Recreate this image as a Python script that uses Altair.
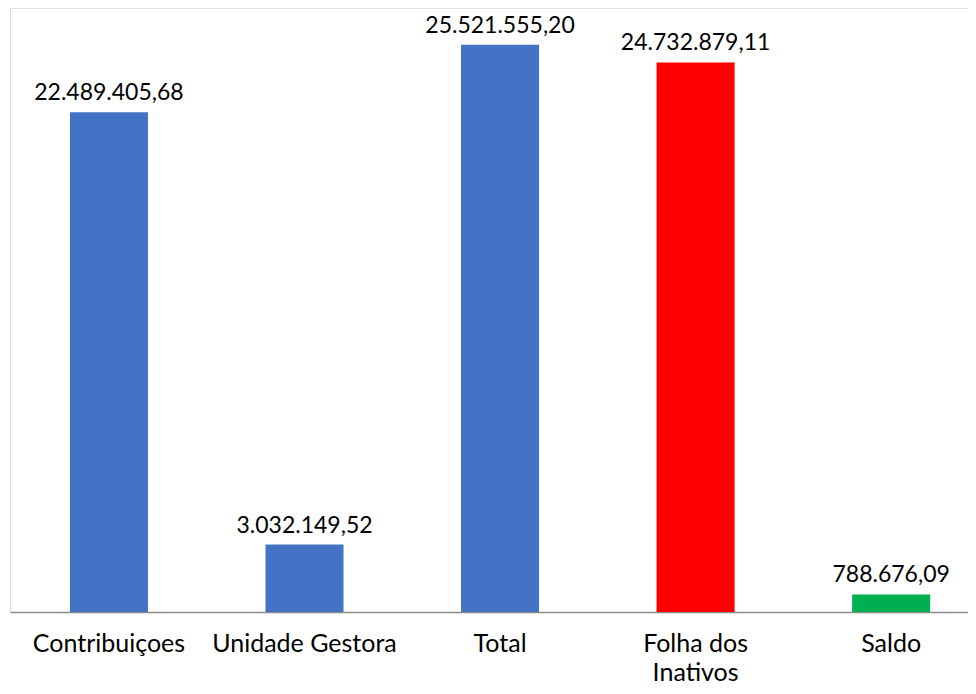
import altair as alt
import pandas as pd

categories = ["Contribuiçoes", "Unidade Gestora", "Total", "Folha dos Inativos", "Saldo"]
values = [22489405.68, 3032149.52, 25521555.20, 24732879.11, 788676.09]
labels = ["22.489.405,68", "3.032.149,52", "25.521.555,20", "24.732.879,11", "788.676,09"]
colors = ["#4472C4", "#4472C4", "#4472C4", "#FF0000", "#00B050"]

df = pd.DataFrame({"cat": categories, "val": values, "lab": labels, "col": colors})

FONT = "Lato"

x = alt.X(
    "cat:N",
    sort=categories,
    title=None,
    scale=alt.Scale(paddingInner=0.601, paddingOuter=0.25, align=0.613),
    axis=alt.Axis(
        labelAngle=0,
        labelFont=FONT,
        labelFontSize=25,
        labelColor="#000000",
        labelPadding=19,
        labelLineHeight=29,
        labelLimit=400,
        labelExpr="datum.label == 'Folha dos Inativos' ? ['Folha dos', 'Inativos'] : datum.label",
        ticks=False,
        domainColor="#8C8C8C",
        domainWidth=1.5,
        grid=False,
    ),
)
y = alt.Y("val:Q", scale=alt.Scale(domain=[0, 27180000], nice=False), axis=None)

bars = alt.Chart(df).mark_bar().encode(x=x, y=y, color=alt.Color("col:N", scale=None))
text = alt.Chart(df).mark_text(
    font=FONT, fontSize=23, baseline="alphabetic", dy=-12, color="#000000"
).encode(x=x, y=y, text="lab:N")

chart = (
    alt.layer(bars, text)
    .properties(width=958, height=604, padding={"left": 2, "top": 0, "right": 0, "bottom": 0})
    .configure_view(stroke=None)
    .configure(background="#FFFFFF")
)

chart.save("out.html", embed_options={"renderer": "svg", "actions": False})
